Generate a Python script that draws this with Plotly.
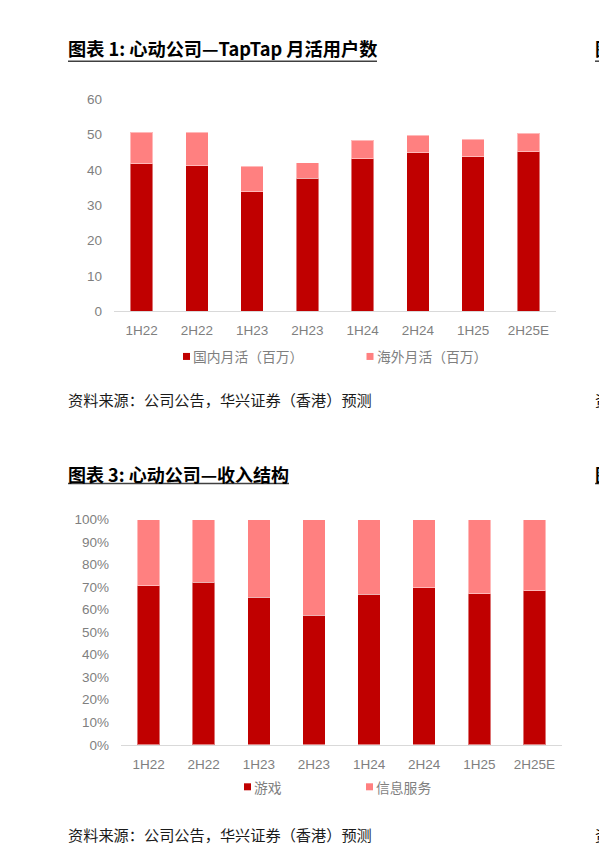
import plotly.graph_objects as go

# ---- data ----
periods = ["1H22", "2H22", "1H23", "2H23", "1H24", "2H24", "1H25", "2H25E"]

# TapTap monthly active users (millions)
mau_domestic = [41.7, 41.1, 33.8, 37.6, 43.2, 44.8, 43.7, 45.1]
mau_overseas = [9.0, 9.5, 7.2, 4.4, 5.2, 5.0, 5.0, 5.2]
mau_names = ["国内月活（百万）", "海外月活（百万）"]
mau_ticks = [0, 10, 20, 30, 40, 50, 60]

# revenue mix (%)
rev_game = [70.7, 72.1, 65.6, 57.5, 66.8, 69.8, 67.1, 68.4]
rev_info = [round(100 - v, 1) for v in rev_game]
rev_names = ["游戏", "信息服务"]
rev_ticks = list(range(0, 101, 10))

title_1 = "图表 1: 心动公司—TapTap 月活用户数"
title_3 = "图表 3: 心动公司—收入结构"
source_note = "资料来源：公司公告，华兴证券（香港）预测"

# ---- style ----
W, H = 599, 855
PAGE_H = H + 16          # page height including the body's default 8px margins
DARK_RED = "#C00000"
PINK = "#FF8080"
GREY_TXT = "#7F7F7F"
AXIS_LINE = "#D9D9D9"
CJK = "Noto Sans CJK SC"
LATIN = "Liberation Sans, Arial, sans-serif"


def px(x):
    return x / W


def py(y):
    # page position -> paper fraction (page is fitted into the window height)
    fig_y = y * PAGE_H / H - 8
    return 1 - fig_y / H


fig = go.Figure()

bar_line = dict(color="rgba(255,255,255,0.45)", width=1)

fig.add_trace(go.Bar(x=periods, y=mau_domestic, name=mau_names[0], marker=dict(color=DARK_RED, line=bar_line),
                     xaxis="x", yaxis="y", showlegend=False))
fig.add_trace(go.Bar(x=periods, y=mau_overseas, name=mau_names[1], marker=dict(color=PINK, line=bar_line),
                     xaxis="x", yaxis="y", showlegend=False))
fig.add_trace(go.Bar(x=periods, y=rev_game, name=rev_names[0], marker=dict(color=DARK_RED, line=bar_line),
                     xaxis="x2", yaxis="y2", showlegend=False))
fig.add_trace(go.Bar(x=periods, y=rev_info, name=rev_names[1], marker=dict(color=PINK, line=bar_line),
                     xaxis="x2", yaxis="y2", showlegend=False))

tick_font = dict(family=LATIN, size=13.5, color=GREY_TXT)

xcommon = dict(type="category", showgrid=False, zeroline=False, showline=True, linecolor=AXIS_LINE,
               linewidth=1, ticks="", tickfont=tick_font, fixedrange=True, ticklabelstandoff=7)
ycommon = dict(showgrid=False, zeroline=False, showline=False, ticks="", tickfont=tick_font,
               fixedrange=True, ticklabelstandoff=11)

fig.update_layout(
    width=W, height=H,
    margin=dict(l=0, r=0, t=0, b=0),
    paper_bgcolor="white", plot_bgcolor="white",
    barmode="stack",
    bargap=0.59,
    showlegend=False,
    xaxis=dict(domain=[px(114), px(556)], anchor="y", **xcommon),
    yaxis=dict(domain=[py(311.7), py(100)], anchor="x", range=[0, 60], tickvals=mau_ticks, **ycommon),
    xaxis2=dict(domain=[px(121), px(562)], anchor="y2", **xcommon),
    yaxis2=dict(domain=[py(745), py(520)], anchor="x2", range=[0, 100], tickvals=rev_ticks,
                ticktext=[f"{v}%" for v in rev_ticks], **ycommon),
)

annotations = []
shapes = []


def add_text(x, y, text, size, color, bold=False, family=CJK):
    annotations.append(dict(
        x=px(x - 2), y=py(y), xref="paper", yref="paper", xanchor="left", yanchor="middle",
        text=f"<b>{text}</b>" if bold else text, showarrow=False,
        font=dict(family=family, size=size, color=color),
    ))


def add_rule(x0, x1, y):
    shapes.append(dict(type="line", xref="paper", yref="paper", x0=px(x0), x1=px(x1), y0=py(y), y1=py(y),
                       line=dict(color="#404040", width=1.5)))


def add_key(x, y, color, label):
    shapes.append(dict(type="rect", xref="paper", yref="paper", x0=px(x), x1=px(x + 7),
                       y0=py(y + 3.5), y1=py(y - 3.5), fillcolor=color, line=dict(width=0)))
    add_text(x + 10, y, label, 13.8, GREY_TXT)


# chart titles with underline
add_text(68, 49, title_1, 18.2, "#000000", bold=True)
add_rule(68, 377, 62)
add_text(68, 474.5, title_3, 18, "#000000", bold=True)
add_rule(68, 289, 484)

# neighbouring column, running past the page edge
add_text(595, 49, "图表 2", 18, "#000000", bold=True)
add_rule(595, 600, 62)
add_text(595, 474.5, "图表 4", 18, "#000000", bold=True)
add_rule(595, 600, 484)
add_text(595, 400, "资料", 15.2, "#000000")
add_text(595, 834, "资料", 15.2, "#000000")

# legends
add_key(183, 357, DARK_RED, mau_names[0])
add_key(366.5, 357, PINK, mau_names[1])
add_key(244, 787, DARK_RED, rev_names[0])
add_key(366, 787, PINK, rev_names[1])

# source notes
add_text(68, 400, source_note, 15.2, "#1A1A1A")
add_text(68, 834, source_note, 15.2, "#1A1A1A")

fig.update_layout(annotations=annotations, shapes=shapes)

fig.write_html("out.html")
